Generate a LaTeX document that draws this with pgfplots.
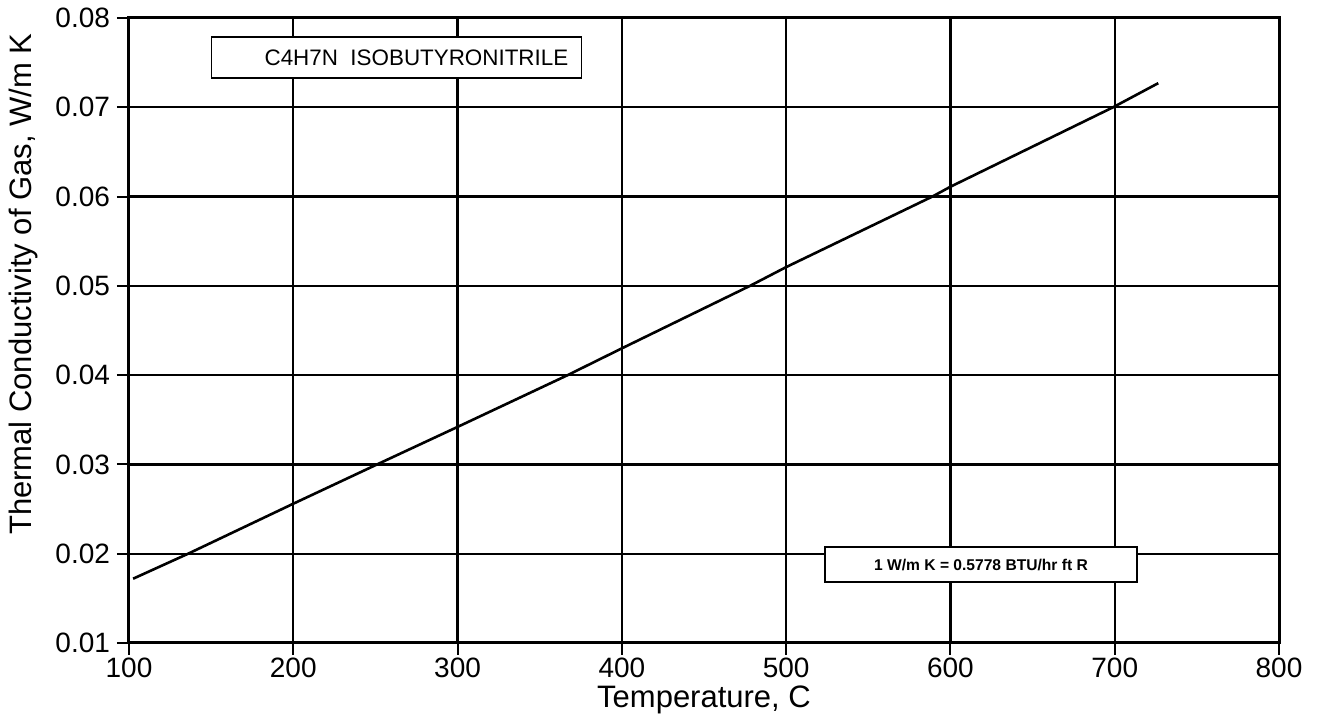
\documentclass[border=0pt]{standalone}
\usepackage{pgfplots}
\pgfplotsset{compat=1.18}
\usepackage{fontspec}
\setmainfont{Liberation Sans}
\begin{document}
\begin{tikzpicture}
\begin{axis}[name=ax,
  scale only axis, width=575pt, height=312.5pt,
  xmin=100, xmax=800, ymin=0.01, ymax=0.08,
  xtick={100,200,...,800}, ytick={0.01,0.02,...,0.08},
  scaled y ticks=false,
  yticklabel style={/pgf/number format/fixed, /pgf/number format/fixed zerofill, /pgf/number format/precision=2},
  /pgf/number format/assume math mode=true,
  ticklabel style={font=\fontsize{14}{16}\selectfont},
  xtick pos=bottom, ytick pos=left,
  tick align=outside, major tick length=6pt,
  tick style={black, line width=1pt},
  grid=major, major grid style={black, line width=1.1pt},
  axis line style={line width=1.5pt},
  xlabel={Temperature, C}, ylabel={Thermal Conductivity of Gas, W/m K},
  label style={font=\fontsize{15.5}{17}\selectfont},
  xlabel style={yshift=3pt},
  ylabel style={at={(ticklabel cs:0.574)}, anchor=near ticklabel, yshift=2pt},
  xticklabel style={yshift=2pt},
]
\addplot[black, line width=1.3pt] coordinates {
(102.5,0.0172) (136,0.0200) (200,0.0256) (251,0.0300) (300,0.0342)
(367,0.0400) (400,0.0430) (478,0.0500) (500,0.0521) (589,0.0600)
(600,0.0611) (699,0.0700) (726.5,0.0727)
};
\node[draw, line width=0.8pt, fill=white, minimum width=185pt, minimum height=20.5pt,
  font=\fontsize{11.2}{13}\selectfont] at (axis cs:262.8,0.07558) {\hspace*{20pt}C4H7N\ \ ISOBUTYRONITRILE};
\node[draw, line width=0.8pt, fill=white, minimum width=156pt, minimum height=17.5pt,
  font=\bfseries\fontsize{7.8}{9}\selectfont] at (axis cs:618.6,0.01879) {1 W/m K = 0.5778 BTU/hr ft R};
\end{axis}
\pgfresetboundingbox
\path[use as bounding box] ([xshift=-64.5pt,yshift=-38.5pt]ax.south west) rectangle ([xshift=20.5pt,yshift=9pt]ax.north east);
\end{tikzpicture}
\end{document}
